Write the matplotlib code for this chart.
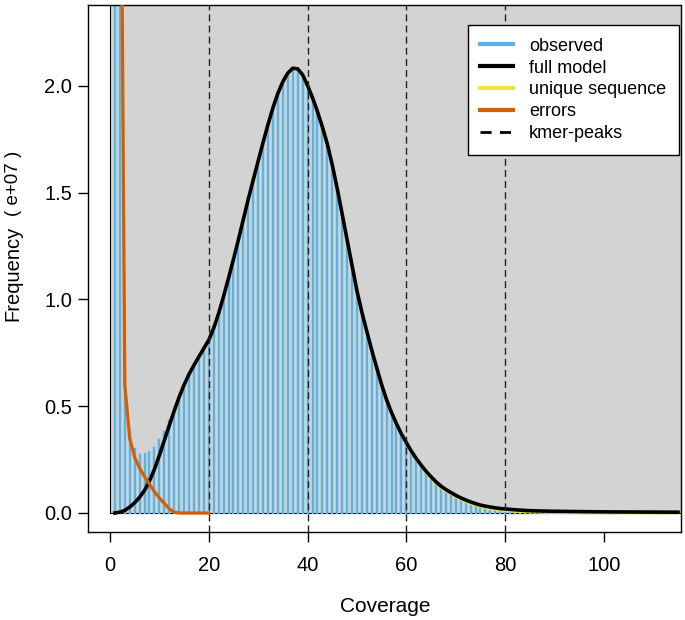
import numpy as np
import matplotlib.pyplot as plt
from matplotlib.patches import Rectangle
from matplotlib.lines import Line2D

plt.rcParams['font.family'] = ['Liberation Sans', 'DejaVu Sans']

# k-mer coverage (x) and frequencies in units of 1e7
coverage = list(range(1, 116))

observed = [
    40.0, 6.0, 0.62, 0.38, 0.30, 0.27, 0.275, 0.285, 0.305, 0.34,
    0.38, 0.43, 0.49, 0.55, 0.60, 0.65, 0.69, 0.73, 0.77, 0.81,
    0.87, 0.94, 1.02, 1.10, 1.19, 1.28, 1.37, 1.47, 1.56, 1.65,
    1.74, 1.82, 1.90, 1.97, 2.02, 2.06, 2.08, 2.08, 2.05, 2.00,
    1.95, 1.88, 1.81, 1.73, 1.63, 1.52, 1.40, 1.28, 1.16, 1.04,
    0.94, 0.85, 0.76, 0.68, 0.60, 0.53, 0.47, 0.41, 0.37, 0.33,
    0.29, 0.25, 0.22, 0.19, 0.165, 0.14, 0.12, 0.105, 0.09, 0.078,
    0.066, 0.056, 0.047, 0.039, 0.032, 0.027, 0.023, 0.019, 0.016, 0.014,
    0.012, 0.011, 0.010, 0.009, 0.008, 0.0075, 0.007, 0.0065, 0.006, 0.0058,
    0.0056, 0.0054, 0.0052, 0.005, 0.0049, 0.0048, 0.0047, 0.0046, 0.0045, 0.0044,
    0.0043, 0.0042, 0.0041, 0.004, 0.0039, 0.0038, 0.0037, 0.0036, 0.0035, 0.0034,
    0.0033, 0.0032, 0.0031, 0.003, 0.003,
]

full_model = [
    0.000, 0.004, 0.012, 0.028, 0.048, 0.074, 0.106, 0.150, 0.205, 0.270,
    0.340, 0.410, 0.478, 0.543, 0.600, 0.650, 0.692, 0.732, 0.771, 0.810,
    0.866, 0.935, 1.015, 1.100, 1.188, 1.280, 1.375, 1.470, 1.560, 1.648,
    1.736, 1.820, 1.898, 1.966, 2.020, 2.060, 2.083, 2.080, 2.052, 2.002,
    1.945, 1.880, 1.808, 1.728, 1.630, 1.520, 1.400, 1.280, 1.160, 1.040,
    0.940, 0.850, 0.762, 0.680, 0.600, 0.530, 0.470, 0.418, 0.370, 0.330,
    0.290, 0.255, 0.224, 0.195, 0.170, 0.146, 0.126, 0.110, 0.096, 0.083,
    0.071, 0.061, 0.052, 0.044, 0.037, 0.032, 0.028, 0.024, 0.021, 0.019,
    0.017, 0.015, 0.0135, 0.012, 0.011, 0.010, 0.0095, 0.009, 0.0085, 0.008,
    0.0077, 0.0074, 0.0071, 0.0068, 0.0065, 0.0062, 0.006, 0.0058, 0.0056, 0.0054,
    0.0052, 0.005, 0.0049, 0.0048, 0.0047, 0.0046, 0.0045, 0.0044, 0.0043, 0.0042,
    0.0041, 0.004, 0.0039, 0.0038, 0.0037,
]

# unique sequence follows the full model, drops a little below it in the tail
unique_tail = [
    0.285, 0.250, 0.220, 0.190, 0.164, 0.140, 0.120, 0.104, 0.090, 0.077,
    0.065, 0.055, 0.046, 0.038, 0.031, 0.026, 0.021, 0.018, 0.015, 0.012,
    0.010, 0.0088, 0.0076, 0.0066, 0.0058, 0.005, 0.0044, 0.0039, 0.0034, 0.003,
    0.0027, 0.0024, 0.0021, 0.0019, 0.0017, 0.0015, 0.0013, 0.0012, 0.0011, 0.001,
    0.0009, 0.0008, 0.0007, 0.0006, 0.0005, 0.0005, 0.0004, 0.0004, 0.0003, 0.0003,
    0.0003, 0.0002, 0.0002, 0.0002, 0.0002,
]
unique_seq = full_model[:60] + unique_tail

error_cov = list(range(1, 21))
errors = [30.0, 4.0, 0.60, 0.35, 0.26, 0.21, 0.17, 0.135, 0.10, 0.07,
          0.045, 0.02, 0.003, 0, 0, 0, 0, 0, 0, 0]

kmer_peaks = [20, 40, 60, 80]

c_hist = '#56B4E9'
c_model = 'black'
c_unique = '#F0E442'
c_err = '#D55E00'

fig = plt.figure(figsize=(6.85, 6.2), dpi=100)
ax = fig.add_axes([88 / 685, 88 / 620, (681 - 88) / 685, (532 - 5) / 620])

ax.add_patch(Rectangle((0, 0), 300, 50, facecolor='#d3d3d3', edgecolor='black',
                       linewidth=0.8, zorder=0))
ax.vlines(coverage, 0, observed, color=c_hist, linewidth=1.7,
          capstyle='projecting', zorder=1)
ax.plot(coverage, unique_seq, color=c_unique, linewidth=2.2, zorder=2)
ax.plot(coverage, full_model, color=c_model, linewidth=2.6, zorder=3)
ax.plot(error_cov, errors, color=c_err, linewidth=2.3, zorder=4)
for p in kmer_peaks:
    ax.axvline(p, color='#222222', linestyle=(0, (5, 3)), linewidth=1, zorder=5)

ax.set_xlim(-4.45, 115.6)
ax.set_ylim(-0.089, 2.379)
ax.set_xticks([0, 20, 40, 60, 80, 100])
ax.set_yticks([0, 0.5, 1.0, 1.5, 2.0])
ax.set_yticklabels(['0.0', '0.5', '1.0', '1.5', '2.0'])
ax.tick_params(axis='both', direction='out', length=7.5, width=1, labelsize=14.5)
ax.tick_params(axis='x', pad=10)
ax.tick_params(axis='y', pad=4)
for s in ax.spines.values():
    s.set_linewidth(1)

fig.text(385 / 685, 1 - 607 / 620, 'Coverage', fontsize=15, ha='center', va='center')
fig.text(13 / 685, 1 - 273 / 620, 'Frequency', fontsize=14.5, rotation=90,
         ha='center', va='center')
fig.text(13 / 685, 1 - 183 / 620, '( e+07 )', fontsize=13.5, rotation=90,
         ha='center', va='center')

handles = [
    Line2D([], [], color=c_hist, linewidth=3),
    Line2D([], [], color=c_model, linewidth=3),
    Line2D([], [], color=c_unique, linewidth=3),
    Line2D([], [], color=c_err, linewidth=3),
    Line2D([], [], color='black', linewidth=2, linestyle=(0, (4, 3))),
]
labels = ['observed', 'full model', 'unique sequence', 'errors', 'kmer-peaks']
leg = ax.legend(handles, labels, loc='upper right', fontsize=13,
                bbox_to_anchor=(679 / 685, 1 - 25 / 620), bbox_transform=fig.transFigure,
                borderaxespad=0, frameon=True, fancybox=False, framealpha=1,
                edgecolor='black', handlelength=1.8, handletextpad=0.9,
                labelspacing=0.27, borderpad=0.7)
leg.get_frame().set_linewidth(1)

fig.savefig('out.png', dpi=100)
